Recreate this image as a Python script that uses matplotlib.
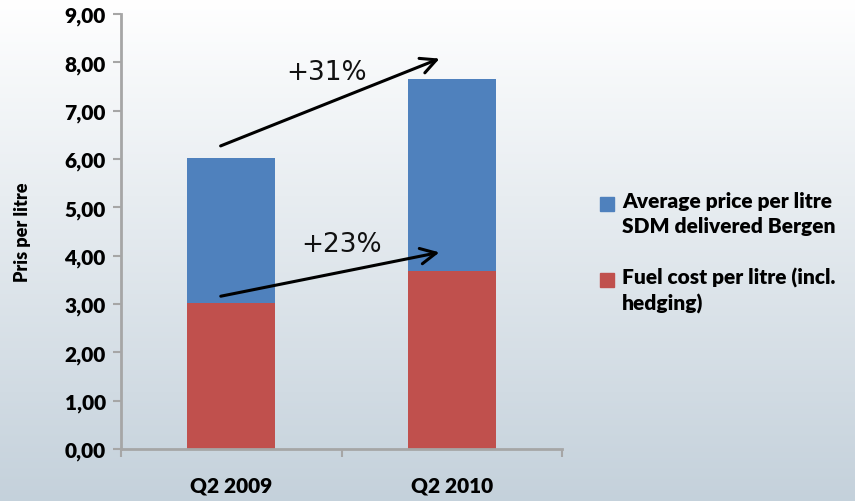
import numpy as np
import matplotlib
matplotlib.use("Agg")
import matplotlib.pyplot as plt
from matplotlib.patches import Rectangle

quarters = ["Q2 2009", "Q2 2010"]
fuel_cost = [3.02, 3.69]       # red, bottom
avg_price = [3.00, 3.97]       # blue, stacked on top
yticks = np.arange(0, 10, 1)
legend_labels = ["Average price per litre\nSDM delivered Bergen",
                 "Fuel cost per litre (incl.\nhedging)"]
growth = ["+31%", "+23%"]

blue = "#4f81bd"
red = "#c0504d"
bold_font = "Lato"

fig = plt.figure(figsize=(8.55, 5.02), dpi=100)

# background gradient, white at top to pale blue-grey at bottom
bg = fig.add_axes([0, 0, 1, 1], zorder=-10)
grad = np.linspace(0, 1, 256).reshape(-1, 1)
top = np.array([1.0, 1.0, 1.0])
bottom = np.array([0.77, 0.82, 0.86])
img = top + grad[:, :, None] * (bottom - top)
bg.imshow(img, aspect="auto", extent=[0, 1, 0, 1])
bg.axis("off")

ax = fig.add_axes([0.1415, 0.1036, 0.516, 0.8664])
ax.set_facecolor("none")

x = np.arange(len(quarters))
ax.bar(x, fuel_cost, width=0.4, color=red, zorder=2)
ax.bar(x, avg_price, width=0.4, bottom=fuel_cost, color=blue, zorder=2)

ax.set_xlim(-0.5, 1.5)
ax.set_ylim(0, 9)
ax.set_yticks(yticks)
ax.set_yticklabels([f"{v:.2f}".replace(".", ",") for v in yticks],
                   fontfamily=bold_font, fontweight="heavy", fontsize=15)
ax.set_xticks(x)
ax.set_xticklabels(quarters, fontfamily=bold_font, fontweight="heavy", fontsize=15)
ax.set_xticks([-0.5, 0.5, 1.5], minor=True)
ax.tick_params(axis="x", which="major", length=0, pad=19)
ax.tick_params(axis="x", which="minor", length=6, width=1.5, color="#a6a6a6")
ax.tick_params(axis="y", length=6, width=1.5, color="#a6a6a6", pad=5)

for side in ["top", "right"]:
    ax.spines[side].set_visible(False)
for side in ["left", "bottom"]:
    ax.spines[side].set_color("#a6a6a6")
    ax.spines[side].set_linewidth(2)

ax.set_ylabel("Pris per litre", fontfamily=bold_font, fontweight="heavy",
              fontsize=13, labelpad=24)

# growth arrows
arrow = dict(arrowstyle="->", lw=2.2, color="black", mutation_scale=28)
ax.annotate("", xy=(0.956, 8.10), xytext=(-0.06, 6.25), arrowprops=arrow, zorder=5)
ax.annotate("", xy=(0.956, 4.08), xytext=(-0.06, 3.15), arrowprops=arrow, zorder=5)
ax.text(0.434, 7.81, growth[0], fontsize=19, ha="center", va="center",
        fontfamily="DejaVu Sans", color="#111111")
ax.text(0.502, 4.24, growth[1], fontsize=19, ha="center", va="center",
        fontfamily="DejaVu Sans", color="#111111")

# legend drawn by hand so the square sits on the first line
W, H = 855, 502
for colr, lab, ypx in zip([blue, red], legend_labels, [205, 281]):
    fig.patches.append(Rectangle((600 / W, 1 - (ypx + 7) / H), 14 / W, 14 / H,
                                 transform=fig.transFigure, color=colr))
    fig.text(622 / W, 1 - (ypx - 13) / H, lab, fontfamily=bold_font,
             fontweight="heavy", fontsize=15, va="top", ha="left",
             linespacing=1.35)

fig.savefig("out.png", dpi=100)
